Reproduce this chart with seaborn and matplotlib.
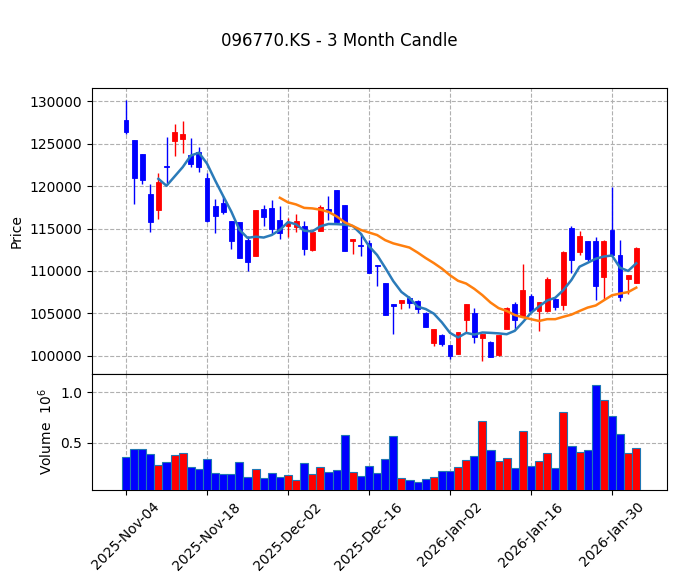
import matplotlib
matplotlib.use('Agg')
import matplotlib.pyplot as plt
import numpy as np
import pandas as pd
import seaborn as sns

# Daily OHLC + volume (trading days 2025-11-04 .. 2026-02-04)
opens = [127800, 125400, 123800, 119100, 117200, 122400, 125300, 125600, 123700, 124000,
         121000, 117600, 118000, 115900, 115800, 113600, 111800, 117300, 117400, 116000,
         115300, 115200, 115300, 112500, 114700, 117300, 119600, 117800, 113500, 113000,
         113300, 110700, 108600, 106100, 106200, 106800, 106400, 105100, 101500, 102500,
         101300, 100200, 104200, 105100, 102100, 101600, 100100, 103200, 106100, 104700,
         107000, 105300, 105300, 106700, 106000, 115100, 112200, 113500, 113500, 109300,
         114800, 111900, 109000, 108600]
highs = [130100, 125400, 123800, 120200, 121600, 125800, 127300, 127700, 125700, 124600,
         121500, 118500, 118800, 115900, 115800, 114100, 117200, 117800, 118400, 117600,
         116200, 116700, 115900, 114600, 117800, 118800, 119600, 117800, 113800, 114500,
         113600, 110700, 108600, 106100, 106600, 107000, 106600, 105200, 103200, 102600,
         101300, 102800, 106100, 105600, 102600, 101700, 102500, 105700, 106300, 110800,
         107300, 106300, 109300, 106800, 112300, 115300, 114700, 113500, 114000, 113700,
         119900, 113700, 109500, 112800]
lows = [126200, 117900, 120300, 114600, 116100, 120100, 123500, 123900, 122200, 121700,
        115800, 114500, 116700, 112600, 111500, 110000, 111800, 115300, 114400, 113800,
        114000, 114600, 111900, 112400, 114700, 116000, 115800, 112300, 112000, 111800,
        109700, 108200, 104800, 102600, 105500, 105600, 105000, 103400, 101200, 101100,
        99600, 100200, 102800, 101500, 99400, 99800, 100000, 103100, 103200, 104700,
        105000, 102900, 105200, 105400, 105400, 109700, 111900, 111200, 106600, 106700,
        111900, 106500, 107300, 108600]
closes = [126400, 120900, 120700, 115800, 120500, 122300, 126400, 126200, 122600, 122200,
          115900, 116500, 116900, 113500, 111500, 111100, 117200, 116400, 115000, 114500,
          115700, 115900, 112600, 114600, 117500, 117100, 115800, 112300, 113800, 112900,
          109800, 110600, 104800, 105900, 106550, 106200, 105500, 103400, 103200, 101400,
          100000, 102800, 106100, 102200, 102600, 99800, 102500, 105600, 104200, 107700,
          105300, 106300, 109100, 105800, 112200, 111300, 114100, 111400, 108200, 113500,
          111900, 106900, 109500, 112700]
volumes_m = [0.36, 0.44, 0.44, 0.39, 0.28, 0.31, 0.38, 0.40, 0.26, 0.24,
             0.34, 0.20, 0.19, 0.19, 0.31, 0.16, 0.24, 0.15, 0.20, 0.16,
             0.18, 0.13, 0.30, 0.19, 0.26, 0.21, 0.23, 0.58, 0.21, 0.17,
             0.27, 0.20, 0.34, 0.57, 0.15, 0.13, 0.12, 0.14, 0.16, 0.22,
             0.22, 0.26, 0.33, 0.37, 0.72, 0.43, 0.32, 0.35, 0.25, 0.62,
             0.27, 0.32, 0.40, 0.25, 0.80, 0.47, 0.41, 0.43, 1.07, 0.92,
             0.76, 0.59, 0.40, 0.45]
holidays = ['2025-12-25', '2025-12-31', '2026-01-01']

dates = pd.bdate_range('2025-11-04', '2026-02-04')
dates = dates[~dates.isin(pd.to_datetime(holidays))]

df = pd.DataFrame({'Open': opens, 'High': highs, 'Low': lows, 'Close': closes,
                   'Volume': volumes_m}, index=dates)
df['pos'] = np.arange(len(df))
df['dir'] = np.where(df.Close >= df.Open, 'up', 'down')
df['ma5'] = df.Close.rolling(5).mean()
df['ma20'] = df.Close.rolling(20).mean()

colors = {'up': '#ff0000', 'down': '#0000ff'}

fig = plt.figure(figsize=(6.78, 5.82), dpi=100)
ax = fig.add_axes([0.1357, 0.3574, 0.8481, 0.4914])
axv = fig.add_axes([0.1357, 0.158, 0.8481, 0.1993], sharex=ax)

# candles
bar_col = df.dir.map(colors)
ax.vlines(df.pos, df.Low, df.High, colors=bar_col, linewidth=1.0, zorder=2)
body_lo = np.minimum(df.Open, df.Close)
body_h = np.maximum(np.abs(df.Close - df.Open), 120)
ax.bar(df.pos, body_h, bottom=body_lo, width=0.6, color=bar_col,
       edgecolor=bar_col, linewidth=0.6, zorder=3)

# moving averages
m5 = df.dropna(subset=['ma5'])
m20 = df.dropna(subset=['ma20'])
sns.lineplot(x=m5.pos, y=m5.ma5, ax=ax, color='#2b7bb9', linewidth=1.8, zorder=4)
sns.lineplot(x=m20.pos, y=m20.ma20, ax=ax, color='#ff7f0e', linewidth=1.8, zorder=4)

# volume
sns.barplot(data=df, x='pos', y='Volume', hue='dir', palette=colors, native_scale=True,
            dodge=False, width=1.0, saturation=1, edgecolor='#1f77b4', linewidth=0.8,
            legend=False, ax=axv, zorder=3)

ax.set_xlim(-4.2, 66.8)
ax.set_ylim(97850, 131570)
axv.set_ylim(0.036, 1.177)

tick_pos = list(range(0, len(df), 10))
tick_lbl = [dates[i].strftime('%Y-%b-%d') for i in tick_pos]
axv.set_xticks(tick_pos)
axv.set_xticklabels(tick_lbl, rotation=45, ha='center', fontsize=10)
axv.set_yticks([0.5, 1.0])
ax.tick_params(axis='x', which='both', bottom=False, labelbottom=False)

for a in (ax, axv):
    a.grid(True, linestyle='--', color='#b0b0b0', linewidth=0.8, zorder=0)
    a.set_axisbelow(True)
    a.set_xlabel('')

ax.set_ylabel('Price', fontsize=10)
axv.set_ylabel('Volume  $10^{6}$', fontsize=10)

fig.suptitle('096770.KS - 3 Month Candle', y=0.945, fontsize=12)

fig.savefig('out.png', dpi=100)
